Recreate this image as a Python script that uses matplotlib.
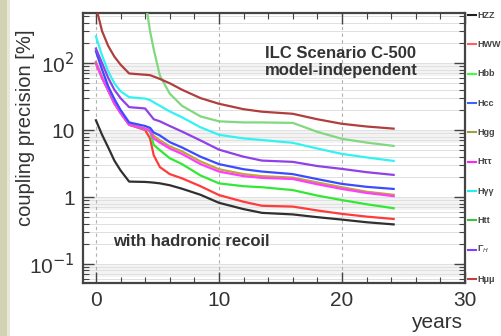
import numpy as np
import matplotlib
matplotlib.use("Agg")
import matplotlib.pyplot as plt
from matplotlib.ticker import LogLocator, FixedLocator, NullFormatter, MultipleLocator
from matplotlib.lines import Line2D
from matplotlib.patches import Rectangle

plt.rcParams['font.family'] = ['Liberation Sans', 'DejaVu Sans']

# ---- data ----
years = [0, 0.5, 1, 1.5, 2, 2.7, 4.0, 4.4, 4.7, 5.2, 6, 7, 8.5, 10, 12, 13.5, 16, 18, 20, 22, 24.2]

h_zz = [14, 8.5, 5.5, 3.5, 2.5, 1.7, 1.68, 1.66, 1.64, 1.6, 1.5, 1.33, 1.08, 0.82, 0.66, 0.58, 0.55, 0.5, 0.46, 0.42, 0.39]
h_ww = [100, 60, 39, 25, 18, 12, 10, 7.5, 4.2, 2.8, 2.2, 1.9, 1.45, 1.07, 0.85, 0.74, 0.72, 0.63, 0.56, 0.51, 0.47]
h_bb = [100, 60, 39, 25, 18, 12, 10.3, 9.5, 6.0, 5.0, 3.8, 3.1, 2.1, 1.6, 1.45, 1.4, 1.27, 1.05, 0.9, 0.78, 0.68]
h_cc = [150, 80, 45, 29, 20, 13, 11.5, 10.8, 9.2, 8.3, 6.6, 5.5, 4.0, 3.1, 2.6, 2.4, 2.2, 1.85, 1.57, 1.42, 1.32]
h_gg = [105, 62, 40, 26, 18.5, 12.3, 10.6, 10.0, 8.2, 7.0, 5.7, 4.8, 3.4, 2.6, 2.2, 2.05, 1.95, 1.65, 1.4, 1.2, 1.08]
h_tautau = [100, 60, 39, 25, 18, 12, 10.4, 9.8, 7.5, 6.5, 5.3, 4.4, 3.1, 2.4, 2.05, 1.93, 1.86, 1.55, 1.32, 1.15, 1.03]
h_gamgam = [250, 130, 75, 50, 38, 31, 29.5, 28, 26, 23, 19, 15.5, 11, 8.5, 7.5, 7.1, 6.45, 5.3, 4.4, 3.9, 3.46]
h_tt = [np.nan, np.nan, np.nan, np.nan, np.nan, np.nan, 900, 300, 160, 65, 35, 23, 16, 13.5, 13, 13, 12.8, 9.4, 7.4, 6.5, 5.8]
gamma_h = [165, 100, 60, 40, 30, 22, 21, 17, 14.5, 13.5, 11.5, 9.5, 7, 5.1, 4.0, 3.5, 3.35, 2.9, 2.63, 2.35, 2.14]
h_mumu = [700, 300, 180, 125, 95, 70, 67, 66, 63, 58, 50, 40, 30, 24.7, 20.5, 18.8, 17.5, 14.5, 12.4, 11.3, 10.5]

labels = ["HZZ", "HWW", "Hbb", "Hcc", "Hgg", "H\u03c4\u03c4", "H\u03b3\u03b3", "Htt", "\u0393$_H$", "H\u03bc\u03bc"]
series = [h_zz, h_ww, h_bb, h_cc, h_gg, h_tautau, h_gamgam, h_tt, gamma_h, h_mumu]
line_colors = ["#303030", "#ff3b3b", "#33e833", "#3a4cff", "#c0a53a", "#ff3cff", "#33f2f2", "#80d880", "#9040e8", "#b03e3e"]
legend_colors = ["#202020", "#ff6060", "#40ff40", "#4060ff", "#a0a040", "#ff20ff", "#20f0f0", "#40c040", "#8040ff", "#c04040"]
# drawing order (back to front)
order = [0, 1, 2, 4, 5, 3, 8, 6, 7, 9]

x_ticks = [0, 10, 20, 30]
y_ticks = [0.1, 1, 10, 100]
y_ticklabels = ["10$^{-1}$", "1", "10", "10$^{2}$"]

# ---- figure ----
fig = plt.figure(figsize=(5.02, 3.36), dpi=100)
fig.patch.set_facecolor("white")
fig.patches.append(Rectangle((0, 0), 7 / 502, 1, transform=fig.transFigure,
                             facecolor="#d2d2b4", edgecolor="none", zorder=0))
fig.patches.append(Rectangle((7 / 502, 0), 3 / 502, 1, transform=fig.transFigure,
                             facecolor="#e8e8d8", edgecolor="none", zorder=0))

ax = fig.add_axes([83 / 502, 1 - 283 / 336, (465 - 83) / 502, (283 - 13) / 336])
ax.set_yscale("log")
ax.set_xlim(-1.05, 30)
ax.set_ylim(0.052, 560)

# background bands and grid
for k in [-2, -1, 0, 1, 2]:
    ax.axhspan(0.65 * 10**k, 1.0 * 10**k, color="#f3f3f3", zorder=0, lw=0)
    for m in range(1, 10):
        ax.axhline(m * 10**k, color="#e0e0e0", lw=0.7, zorder=0.5)
for xv in [0, 10, 20]:
    ax.axvline(xv, color="#b0b0b0", lw=0.8, ls=(0, (3, 3)), zorder=0.6)

for i in order:
    ax.plot(years, series[i], color=line_colors[i], lw=1.6, zorder=2 + order.index(i) * 0.1,
            solid_joinstyle="round")

ax.xaxis.set_major_locator(FixedLocator(x_ticks))
ax.xaxis.set_minor_locator(MultipleLocator(2))
ax.yaxis.set_major_locator(FixedLocator(y_ticks))
ax.set_yticklabels(y_ticklabels)
ax.yaxis.set_minor_locator(LogLocator(base=10, subs=np.arange(2, 10)))
ax.yaxis.set_minor_formatter(NullFormatter())
ax.tick_params(axis="both", which="both", direction="in", colors="#444444",
               labelcolor="#333333", labelsize=15, top=True, right=True)
ax.tick_params(axis="both", which="major", length=8, width=1.0)
ax.tick_params(axis="both", which="minor", length=4, width=0.8)
ax.tick_params(axis="x", which="major", pad=6)
ax.tick_params(axis="y", which="major", pad=6)
for sp in ax.spines.values():
    sp.set_color("#444444")
    sp.set_linewidth(1.6)

ax.set_ylabel("coupling precision [%]", fontsize=14.5, color="#333333")
ax.yaxis.set_label_coords((35 - 83) / 382, (283 - 128) / 270)
fig.text(462 / 502, 1 - 323 / 336, "years", fontsize=15, color="#333333",
         ha="right", va="center")

fig.text(265 / 502, 1 - 53 / 336, "ILC Scenario C-500", fontsize=12, fontweight="bold",
         color="#333333", ha="left", va="center")
fig.text(265 / 502, 1 - 71 / 336, "model-independent", fontsize=12, fontweight="bold",
         color="#333333", ha="left", va="center")
fig.text(113 / 502, 1 - 241 / 336, "with hadronic recoil", fontsize=12, fontweight="bold",
         color="#333333", ha="left", va="center")

# legend outside on the right
n = len(labels)
for j in range(n):
    yy = 1 - (15 + j * (279 - 15) / (n - 1)) / 336
    fig.add_artist(Line2D([468 / 502, 476 / 502], [yy, yy], transform=fig.transFigure,
                          color=legend_colors[j], lw=1.5))
    fig.text(477.5 / 502, yy, labels[j], fontsize=6.5, fontweight="bold", color="#444444",
             ha="left", va="center")

fig.savefig("out.png", dpi=100, facecolor=fig.get_facecolor())
